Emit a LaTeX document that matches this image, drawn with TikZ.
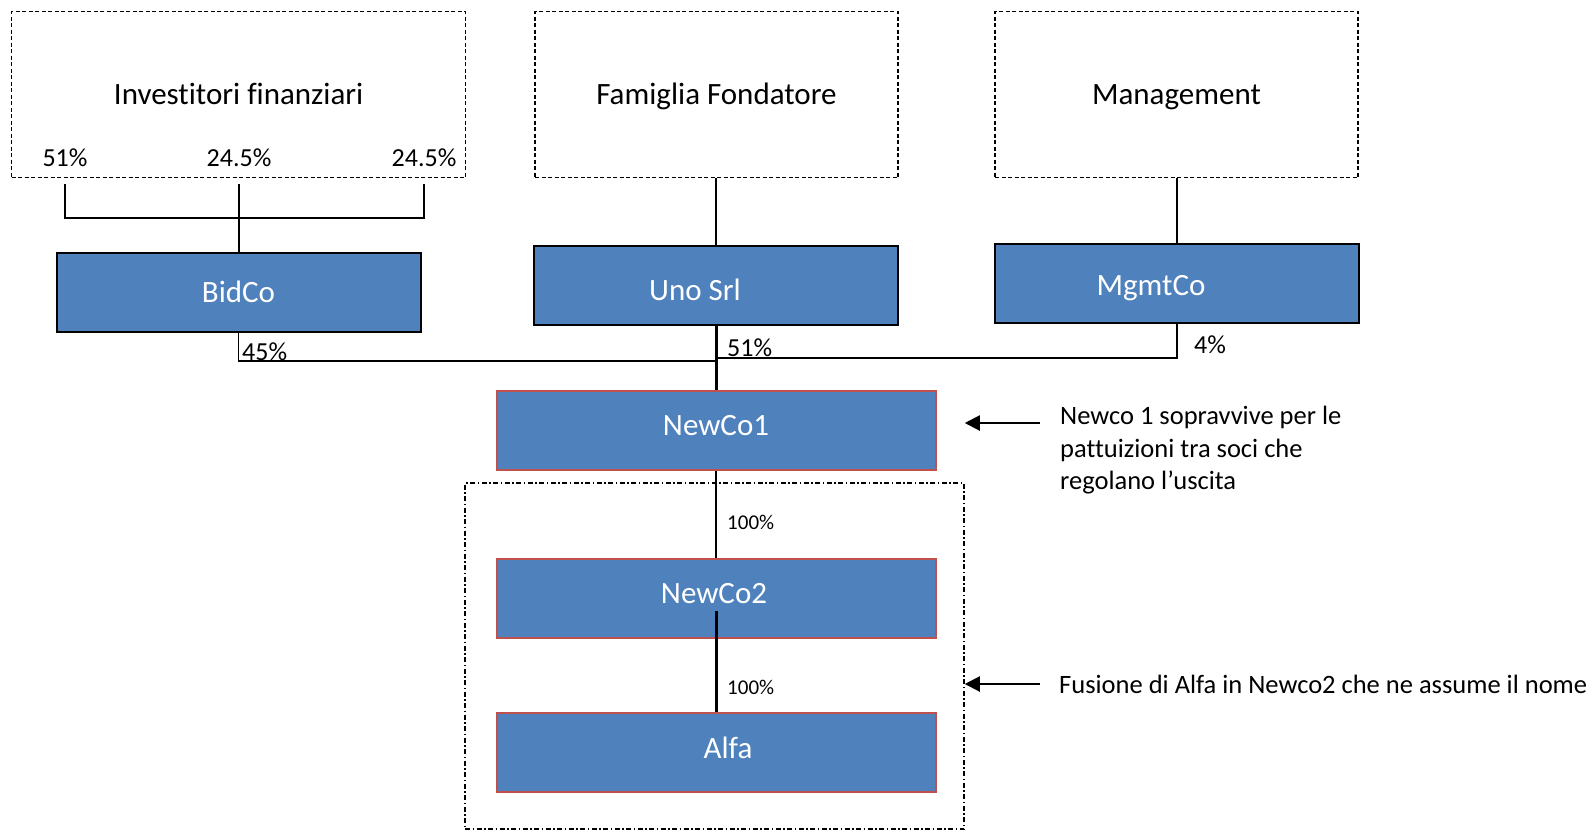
\documentclass[tikz,border=0pt]{standalone}
\usepackage{fontspec}
\setmainfont{Carlito}[Ligatures=NoCommon]
\usepackage{xcolor}
\usetikzlibrary{arrows.meta}

\definecolor{boxblue}{HTML}{4F81BD}
\definecolor{boxred}{HTML}{C0504D}

\tikzset{
  holder/.style={draw, line width=1.5pt, dash pattern=on 4pt off 2.5pt, minimum width=363pt, minimum height=166pt, text height=20pt, text depth=0pt, font=\fontsize{31}{37}\selectfont},
  company/.style={draw, line width=2pt, fill=boxblue, minimum width=364pt, minimum height=79pt},
  newco/.style={company, draw=boxred, minimum width=439pt},
  boxlabel/.style 2 args={text=white, font=\fontsize{31}{37}\selectfont, text height=20pt, text depth=0pt, xshift=#1, yshift=#2},
  groupbox/.style={draw, line width=1.5pt, dash pattern=on 5pt off 2.5pt on 1.5pt off 2.5pt, minimum width=499pt, minimum height=346pt},
  pct/.style={font=\fontsize{26}{31}\selectfont, inner sep=0pt},
  smallpct/.style={font=\fontsize{21}{25}\selectfont, inner sep=0pt},
  note/.style={font=\fontsize{26.5}{32.5}\selectfont, align=left, inner sep=0pt, anchor=west},
  link/.style={line width=1.5pt},
  heavylink/.style={line width=3pt},
  pointer/.style={line width=2pt, -{Triangle[length=15pt, width=15pt]}}
}

\begin{document}
\begin{tikzpicture}[x=1pt, y=-1pt]
  \useasboundingbox (0,0) rectangle (1593,831);

  % Shareholders
  \node[holder, minimum width=454pt] (inv) at (238.7,94.5) {Investitori finanziari};
  \node[holder] (fam) at (716.5,94.5) {Famiglia Fondatore};
  \node[holder] (mgmt) at (1176.5,94.5) {Management};

  % Shares of the investors
  \foreach \x/\p [count=\i] in {65/51\%, 239/24.5\%, 424/24.5\%} {
    \node[pct] (share\i) at (\x,158) {\p};
    \coordinate (tap\i) at (\x,184);
  }

  % Holding companies
  \node[company, label={[boxlabel={0pt}{0pt}]center:BidCo}] (bidco) at (238.5,292.5) {};
  \node[company, label={[boxlabel={-21pt}{-4.5pt}]center:Uno Srl}] (uno) at (716,285.5) {};
  \node[company, label={[boxlabel={-26pt}{-1.5pt}]center:MgmtCo}] (mgmtco) at (1177,283.5) {};

  % Bracket into BidCo
  \draw[link] (tap1) |- (tap3 |- 0,218) -- (tap3);
  \draw[link] (tap2) -- (tap2 |- bidco.north);
  \draw[link] (fam.south -| uno.north) -- (uno.north);
  \draw[link] (mgmt.south -| mgmtco.north) -- (mgmtco.north);

  % Group to be merged
  \node[groupbox] (merge) at (714.5,656) {};

  % Vehicles
  \node[newco, label={[boxlabel={0pt}{5.5pt}]center:NewCo1}] (newco1) at (716,430.5) {};
  \node[newco, label={[boxlabel={-2pt}{5.5pt}]center:NewCo2}] (newco2) at (716,598.5) {};
  \node[newco, label={[boxlabel={12pt}{4pt}]center:Alfa}] (alfa) at (716,752) {};

  % Shareholdings in NewCo1
  \coordinate (joinL) at (716,361);
  \coordinate (joinR) at (716,358);
  \draw[link] (bidco.south) |- (joinL);
  \draw[link] (mgmtco.south) |- (joinR);
  \draw[heavylink] (uno.south) -- (newco1.north);
  \node[pct, anchor=west] (p45) at (242,352) {45\%};
  \node[pct, anchor=west] (p51) at (727,348) {51\%};
  \node[pct] (p4) at (1210,345) {4\%};

  % Chain below
  \draw[link] (newco1.south) -- (newco2.north);
  \node[smallpct, anchor=west] (p100a) at (727,522) {100\%};
  \draw[heavylink] ([yshift=-12pt]newco2.center) -- (alfa.north);
  \node[smallpct, anchor=west] (p100b) at (727,687) {100\%};

  % Notes
  \node[note] (note1) at (1060,450.5) {Newco 1 sopravvive per le\\pattuizioni tra soci che\\regolano l’uscita};
  \node[note] (note2) at (1059,684) {Fusione di Alfa in Newco2 che ne assume il nome};
  \coordinate (tail1) at (1040,423);
  \draw[pointer] (tail1) -- (merge.east |- tail1);
  \draw[pointer] ([xshift=-19pt]note2.west) -- (merge.east |- note2.west);
\end{tikzpicture}
\end{document}
